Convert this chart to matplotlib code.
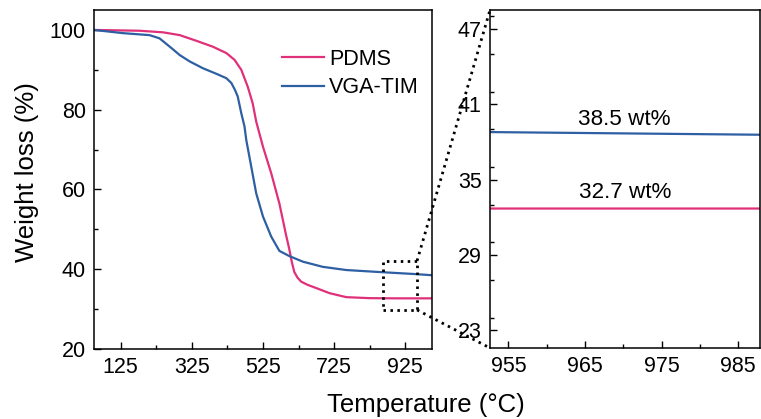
import matplotlib
matplotlib.use("Agg")
import matplotlib.pyplot as plt
from matplotlib.patches import Rectangle, ConnectionPatch
from matplotlib.ticker import MultipleLocator, FixedLocator

plt.rcParams['font.family'] = ['Liberation Sans', 'DejaVu Sans']

# TGA curves: temperature (°C) vs remaining weight (%)
pdms_temp = [50, 178, 244, 291, 337, 384, 422, 445, 464, 482, 496, 506, 525, 548, 571,
             590, 599, 606, 613, 622, 632, 650, 674, 712, 759, 824, 900, 950, 1000]
pdms_weight = [100.0, 99.8, 99.4, 98.7, 97.3, 95.8, 94.2, 92.5, 90.0, 85.8, 81.6, 77.0,
               70.7, 64.1, 56.5, 48.5, 45.0, 41.8, 39.3, 37.9, 36.9, 36.1, 35.3, 34.0,
               33.0, 32.75, 32.7, 32.7, 32.7]

vga_temp = [50, 131, 206, 234, 263, 291, 319, 356, 394, 422, 436, 446, 454, 464, 473,
            478, 492, 506, 525, 548, 571, 599, 637, 693, 759, 852, 950, 1000]
vga_weight = [100.0, 99.2, 98.7, 97.9, 95.8, 93.7, 92.1, 90.4, 89.0, 87.9, 86.7, 85.0,
              83.3, 79.1, 75.8, 72.4, 65.7, 59.0, 53.2, 48.2, 44.6, 43.3, 41.9, 40.6,
              39.8, 39.3, 38.8, 38.5]

series_names = ["PDMS", "VGA-TIM"]
series_colors = ["#E0307A", "#2D5FA2"]

main_xticks = [125, 325, 525, 725, 925]
main_yticks = [20, 40, 60, 80, 100]
inset_xticks = [955, 965, 975, 985]
inset_yticks = [23, 29, 35, 41, 47]

residue_labels = ["32.7 wt%", "38.5 wt%"]
residue_values = [32.7, 38.5]

FS = 15.5
LW = 1.6

fig = plt.figure(figsize=(7.61, 4.19), dpi=100)
ax1 = fig.add_axes([94 / 761, 1 - 349 / 419, (432 - 94) / 761, (349 - 10) / 419])
ax2 = fig.add_axes([490 / 761, 1 - 348 / 419, (759.5 - 490) / 761, (348 - 10) / 419])

for ax in (ax1, ax2):
    ax.plot(pdms_temp, pdms_weight, color=series_colors[0], lw=LW, label=series_names[0])
    ax.plot(vga_temp, vga_weight, color=series_colors[1], lw=LW, label=series_names[1])
    for sp in ax.spines.values():
        sp.set_linewidth(1.1)
    ax.tick_params(which='both', direction='in', top=False, right=False,
                   labelsize=FS, pad=6, width=1.0)
    ax.tick_params(which='major', length=5)
    ax.tick_params(which='minor', length=3)

ax1.set_xlim(50, 1000)
ax1.set_ylim(20, 105)
ax1.xaxis.set_major_locator(FixedLocator(main_xticks))
ax1.xaxis.set_minor_locator(FixedLocator([225, 425, 625, 825]))
ax1.yaxis.set_major_locator(FixedLocator(main_yticks))
ax1.yaxis.set_minor_locator(MultipleLocator(10))

ax2.set_xlim(952.6, 987.8)
ax2.set_ylim(21.6, 48.5)
ax2.xaxis.set_major_locator(FixedLocator(inset_xticks))
ax2.xaxis.set_minor_locator(MultipleLocator(5))
ax2.yaxis.set_major_locator(FixedLocator(inset_yticks))
ax2.yaxis.set_minor_locator(MultipleLocator(3))

# residue labels above the plateau lines
for txt, val in zip(residue_labels, residue_values):
    ax2.text(970.2, val + 1.3, txt, ha='center', va='center', fontsize=16.2)

leg = ax1.legend(loc='upper left', bbox_to_anchor=(0.555, 0.885), frameon=False,
                 fontsize=FS, handlelength=1.95, handletextpad=0.25,
                 labelspacing=0.33, borderpad=0, borderaxespad=0)

# zoom window and connectors
zx0, zx1, zy0, zy1 = 861, 958, 29.8, 42.1
dot = dict(color='black', lw=2.0, linestyle=(0, (0.9, 1.6)), capstyle='butt')
ax1.add_patch(Rectangle((zx0, zy0), zx1 - zx0, zy1 - zy0, fill=False, zorder=5, **dot))
for ya, yb in ((zy1, 1.0), (zy0, 0.0)):
    con = ConnectionPatch(xyA=(zx1, ya), coordsA=ax1.transData,
                          xyB=(0.0, yb), coordsB=ax2.transAxes, zorder=5, **dot)
    fig.add_artist(con)

fig.text(0.035, 0.59, "Weight loss (%)", rotation=90, ha='center', va='center',
         fontsize=18.5)
fig.text(0.56, 0.034, "Temperature (°C)", ha='center', va='center', fontsize=18.5)

fig.savefig("out.png", dpi=100)
